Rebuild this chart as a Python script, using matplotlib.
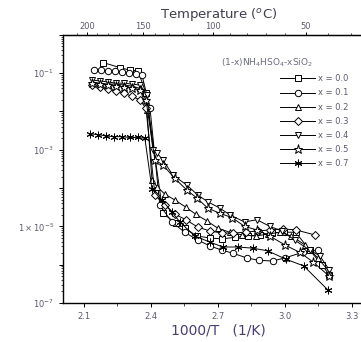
import numpy as np
import matplotlib.pyplot as plt
from matplotlib.ticker import FixedLocator, FixedFormatter, LogLocator, NullFormatter

# conductivity vs 1000/T for (1-x)NH4HSO4-xSiO2
x00 = [2.185, 2.261, 2.306, 2.342, 2.378, 2.454, 2.512, 2.552, 2.606, 2.664, 2.718,
       2.776, 2.834, 2.888, 2.942, 2.996, 3.049, 3.112, 3.166, 3.200]
s00 = [1.9e-1, 1.4e-1, 1.2e-1, 1.15e-1, 3.0e-2, 2.2e-5, 1.2e-5, 9e-6, 5.6e-6, 5.0e-6, 4.7e-6,
       5.2e-6, 5.6e-6, 6.0e-6, 6.8e-6, 7.1e-6, 7.0e-6, 2.4e-6, 1.0e-6, 5.4e-7]

x01 = [2.145, 2.176, 2.207, 2.239, 2.270, 2.301, 2.333, 2.360, 2.396, 2.440, 2.494,
       2.552, 2.610, 2.664, 2.718, 2.767, 2.830, 2.884, 2.946, 3.000, 3.080, 3.148]
s01 = [1.2e-1, 1.2e-1, 1.15e-1, 1.15e-1, 1.1e-1, 1.0e-1, 9.6e-2, 9.0e-2, 1.2e-2, 3.6e-5, 1.3e-5,
       7e-6, 4.4e-6, 3.1e-6, 2.4e-6, 2.0e-6, 1.5e-6, 1.3e-6, 1.25e-6, 1.5e-6, 2.1e-6, 2.4e-6]

x02 = [2.136, 2.172, 2.207, 2.243, 2.279, 2.315, 2.351, 2.382, 2.405, 2.427, 2.462, 2.507,
       2.556, 2.600, 2.650, 2.700, 2.754, 2.810, 2.870, 2.924, 2.978, 3.030, 3.090, 3.148, 3.200]
s02 = [5.9e-2, 5.5e-2, 5.2e-2, 5.2e-2, 4.9e-2, 4.6e-2, 4.0e-2, 1.1e-2, 1.6e-4, 1.1e-4, 7e-5, 4.9e-5,
       3.2e-5, 2.1e-5, 1.4e-5, 9e-6, 7e-6, 6e-6, 5.6e-6, 6.3e-6, 7e-6, 5.6e-6, 3.3e-6, 1.5e-6, 6.5e-7]

x03 = [2.136, 2.172, 2.207, 2.243, 2.279, 2.315, 2.351, 2.378, 2.418, 2.462, 2.507, 2.556,
       2.610, 2.664, 2.718, 2.770, 2.825, 2.880, 2.933, 2.990, 3.050, 3.134]
s03 = [4.9e-2, 4.4e-2, 3.8e-2, 3.4e-2, 3.0e-2, 2.5e-2, 2.0e-2, 1.2e-2, 6.6e-5, 3.6e-5, 2.1e-5, 1.5e-5,
       9.6e-6, 7.6e-6, 6.7e-6, 6.7e-6, 7.1e-6, 7.6e-6, 8.1e-6, 8.6e-6, 8.1e-6, 6.0e-6]

x04 = [2.136, 2.172, 2.207, 2.243, 2.279, 2.315, 2.351, 2.382, 2.409, 2.427, 2.454, 2.498,
       2.561, 2.610, 2.655, 2.709, 2.754, 2.820, 2.875, 2.933, 2.987, 3.044, 3.112, 3.157, 3.200]
s04 = [6.6e-2, 6.3e-2, 5.9e-2, 5.5e-2, 5.5e-2, 5.2e-2, 4.9e-2, 2.7e-2, 1.0e-3, 8.3e-4, 5.4e-4, 2.2e-4,
       1.2e-4, 6.6e-5, 4.4e-5, 3.0e-5, 2.0e-5, 1.3e-5, 1.5e-5, 1.0e-5, 7.6e-6, 4.4e-6, 2.4e-6, 1.7e-6, 7.3e-7]

x05 = [2.136, 2.172, 2.207, 2.243, 2.279, 2.315, 2.351, 2.378, 2.418, 2.454, 2.507, 2.561,
       2.606, 2.655, 2.709, 2.763, 2.820, 2.875, 2.933, 3.000, 3.067, 3.125, 3.200]
s05 = [5.5e-2, 5.2e-2, 4.9e-2, 4.6e-2, 4.4e-2, 4.1e-2, 3.7e-2, 2.0e-2, 5.4e-4, 4.0e-4, 1.8e-4, 8.9e-5,
       5.5e-5, 3.0e-5, 2.2e-5, 1.7e-5, 1.0e-5, 8.1e-6, 5.6e-6, 3.3e-6, 2.1e-6, 1.2e-6, 5.0e-7]

x07 = [2.127, 2.163, 2.199, 2.234, 2.270, 2.306, 2.342, 2.373, 2.405, 2.449, 2.494, 2.530,
       2.597, 2.664, 2.722, 2.790, 2.857, 2.924, 3.004, 3.085, 3.193]
s07 = [2.6e-3, 2.5e-3, 2.3e-3, 2.2e-3, 2.2e-3, 2.1e-3, 2.1e-3, 2.0e-3, 9.3e-5, 4.9e-5, 2.4e-5, 1.3e-5,
       5.6e-6, 3.9e-6, 2.9e-6, 2.9e-6, 2.7e-6, 2.3e-6, 1.4e-6, 9.3e-7, 2.2e-7]

labels = ["x = 0.0", "x = 0.1", "x = 0.2", "x = 0.3", "x = 0.4", "x = 0.5", "x = 0.7"]
xs = [x00, x01, x02, x03, x04, x05, x07]
ss = [s00, s01, s02, s03, s04, s05, s07]
markers = ['s', 'o', '^', 'D', 'v', '*', (6, 2, 0)]
msizes = [4.6, 4.6, 5, 4.2, 5, 6.5, 5.5]

TXT = '#5a5a6e'

fig = plt.figure(figsize=(3.61, 3.42), dpi=100, facecolor='w')
ax = fig.add_axes([0.1745, 0.114, 0.8615, 0.784])

for xv, sv, m, ms, lab in zip(xs, ss, markers, msizes, labels):
    ax.plot(xv, sv, '-', color='k', lw=0.7, marker=m, ms=ms, mfc='w', mec='k',
            mew=0.7, label=lab)

ax.set_yscale('log')
ax.set_xlim(2.006, 3.4)
ax.set_ylim(1e-7, 1e0)

ax.yaxis.set_major_locator(FixedLocator([1e-7, 1e-6, 1e-5, 1e-4, 1e-3, 1e-2, 1e-1, 1e0]))
ax.yaxis.set_major_formatter(FixedFormatter([r"$10^{-7}$", "", r"$1\times10^{-5}$", "",
                                             r"$10^{-3}$", "", r"$10^{-1}$", ""]))
ax.yaxis.set_minor_locator(LogLocator(base=10, subs=np.arange(2, 10), numticks=20))
ax.yaxis.set_minor_formatter(NullFormatter())

ax.set_xticks([2.1, 2.4, 2.7, 3.0, 3.3])
ax.set_xticklabels(["2.1", "2.4", "2.7", "3.0", "3.3"])
ax.set_xticks([2.25, 2.55, 2.85, 3.15], minor=True)

ax.tick_params(which='major', direction='out', length=3, width=0.7, labelsize=6,
               labelcolor=TXT)
ax.tick_params(which='minor', direction='out', length=1.8, width=0.5)
for sp in ax.spines.values():
    sp.set_linewidth(1.0)

ax.set_xlabel("1000/T   (1/K)", fontsize=10, color='#4a3f6e', labelpad=2)

# top axis in Celsius
top = ax.secondary_xaxis('top', functions=(lambda v: 1000.0 / v - 273.15,
                                           lambda t: 1000.0 / (t + 273.15)))
top.set_xticks([200, 150, 100, 50])
top.set_xticks(list(range(30, 220, 10)), minor=True)
top.tick_params(which='major', direction='out', length=2, width=0.7, labelsize=6,
                labelcolor=TXT, pad=0.5)
top.tick_params(which='minor', direction='out', length=1.2, width=0.5)
top.set_xlabel("Temperature ($^{o}$C)", fontsize=9.5, color='#3f3f4e', labelpad=3)

ax.text(0.655, 0.895, r"(1-x)NH$_4$HSO$_4$-xSiO$_2$", transform=ax.transAxes,
        ha='center', va='center', fontsize=6.5, color='#6a6a80')

ax.legend(loc='upper left', bbox_to_anchor=(0.765, 0.795), bbox_transform=fig.transFigure,
          frameon=False, fontsize=6, handlelength=4.2, handletextpad=0.3,
          labelspacing=0.62, borderpad=0, labelcolor=TXT)

fig.savefig("out.png", dpi=100)
plt.close()
